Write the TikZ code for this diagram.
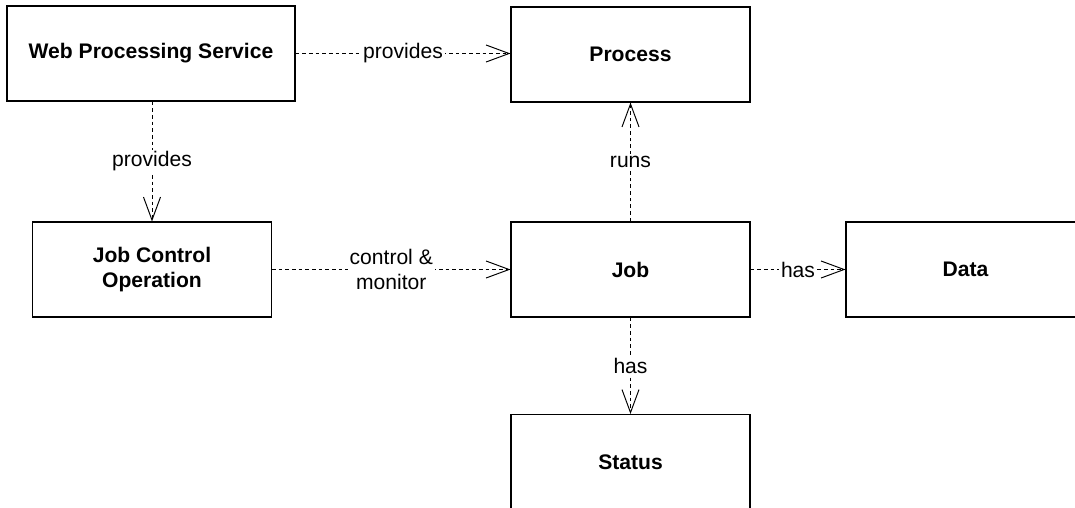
\documentclass[tikz,border=0pt]{standalone}
\usepackage{fontspec}
\setmainfont{Liberation Sans}
\usetikzlibrary{arrows.meta}
\tikzset{>={Straight Barb[length=0.46cm, width=0.34cm]}}
\tikzset{
	box/.style = {draw, line width=0.6pt, minimum width=4.78cm, minimum height=1.9cm, align=center, font=\fontsize{12}{14.5}\selectfont\bfseries},
	rel/.style = {->, line width=0.55pt, dash pattern=on 2.1pt off 1.7pt},
	lbl/.style = {fill=white, inner sep=1pt, align=center, font=\fontsize{12}{14.5}\selectfont}
}
\begin{document}
\begin{tikzpicture}
	\clip (0,0) rectangle (21.5,-10.16);
	\node [box, minimum width=5.76cm] (wps) at (3.02,-1.07) {Web Processing Service};
	\node [box] (process) at (12.61,-1.09) {Process};
	\node [box] (jobctl) at (3.04,-5.39) {Job Control\\Operation};
	\node [box] (job) at (12.61,-5.39) {Job};
	\node [box] (data) at (19.31,-5.39) {Data};
	\node [box] (status) at (12.61,-9.24) {Status};
	\draw [rel] (wps) -- node [lbl] (l1) {provides} (wps -| process.west);
	\draw [rel] (wps.south -| jobctl) -- node [lbl] (l2) {provides} (jobctl);
	\draw [rel] (jobctl) -- node [lbl] (l3) {control \&\\monitor} (job);
	\draw [rel] (job) -- node [lbl] (l4) {runs} (process);
	\draw [rel] (job) -- node [lbl] (l5) {has} (data);
	\draw [rel] (job) -- node [lbl] (l6) {has} (status);
\end{tikzpicture}
\end{document}
